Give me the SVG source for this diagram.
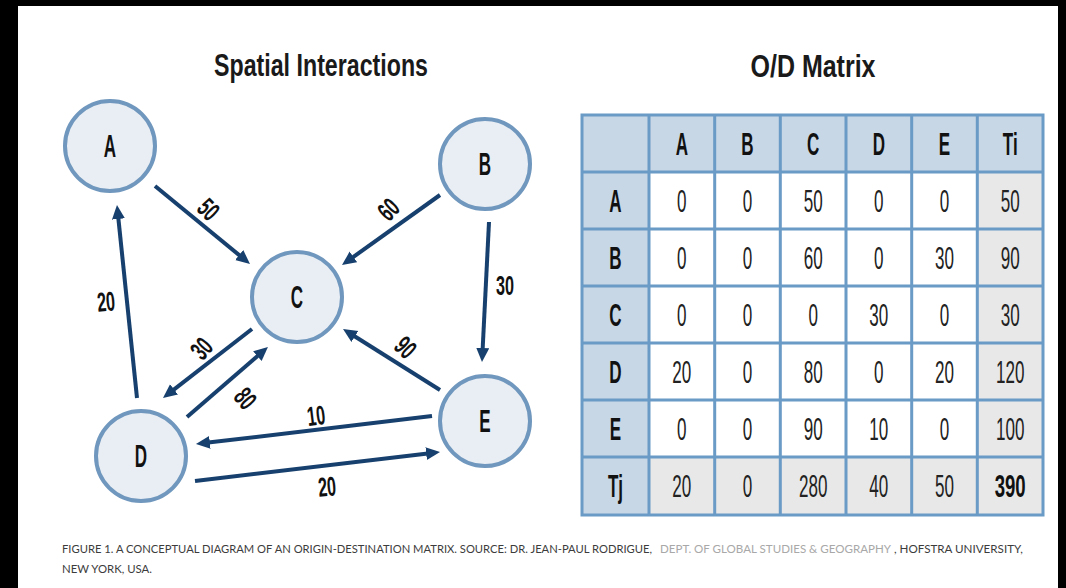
<svg xmlns="http://www.w3.org/2000/svg" width="1066" height="588" viewBox="0 0 1066 588">
<style>
.node circle{fill:#e9eef4;stroke:#7097bd;stroke-width:4}
.lbl{font-family:"Liberation Sans",Arial,sans-serif;font-weight:bold;font-size:31px;fill:#111;text-anchor:middle}
.title{font-family:"Liberation Sans",Arial,sans-serif;font-weight:bold;font-size:32px;fill:#1a1a1a;text-anchor:middle}
.el{font-family:"Liberation Sans",Arial,sans-serif;font-weight:bold;font-size:27px;fill:#111;text-anchor:middle}
.conn line{stroke:#17406e;stroke-width:4;marker-end:url(#ah)}
.hd{fill:#c7d7e6}
.gy{fill:#e8e8e8}
.wh{fill:#ffffff}
.grid{stroke:#6a9ac6;stroke-width:3;fill:none}
.tv{font-family:"Liberation Sans",Arial,sans-serif;font-size:31px;fill:#222;text-anchor:middle}
.th{font-family:"Liberation Sans",Arial,sans-serif;font-weight:bold;font-size:31px;fill:#111;text-anchor:middle}
.cap{font-family:Lato,"Liberation Sans",sans-serif;font-size:11.5px;fill:#3c3c3c}
.capl{fill:#a8a8a8}
</style>
<defs>
<marker id="ah" markerUnits="userSpaceOnUse" markerWidth="16" markerHeight="14" refX="6" refY="6.5" orient="auto">
<path d="M0,0 L14,6.5 L0,13 z" fill="#17406e"/>
</marker>
</defs>
<rect x="0" y="0" width="1066" height="588" fill="#000"/>
<rect x="18" y="6" width="1040" height="582" fill="#fff"/>

<text class="title" x="321" y="76" textLength="214" lengthAdjust="spacingAndGlyphs">Spatial Interactions</text>
<text class="title" x="813" y="77" textLength="125" lengthAdjust="spacingAndGlyphs">O/D Matrix</text>

<g id="connectors" class="conn">
<line x1="155" y1="186" x2="243.8" y2="258.9"/>
<line x1="440" y1="195" x2="348.5" y2="260.4"/>
<line x1="489" y1="222" x2="482.4" y2="354"/>
<line x1="440" y1="390" x2="349.8" y2="333.3"/>
<line x1="252" y1="329" x2="169.3" y2="393.1"/>
<line x1="187" y1="417" x2="261.9" y2="352.2"/>
<line x1="432" y1="416" x2="203.9" y2="443.1"/>
<line x1="195" y1="481" x2="432.1" y2="452.9"/>
<line x1="137" y1="398" x2="117.8" y2="213"/>
</g>
<g id="edge-labels">
<text class="el" transform="translate(209,209) rotate(45) translate(0,10) scale(0.6,1)">50</text>
<text class="el" transform="translate(388,209) rotate(-45) translate(0,10) scale(0.6,1)">60</text>
<text class="el" transform="translate(505,285) translate(0,10) scale(0.6,1)">30</text>
<text class="el" transform="translate(406,347) rotate(45) translate(0,10) scale(0.6,1)">90</text>
<text class="el" transform="translate(201,348) rotate(-48) translate(0,10) scale(0.6,1)">30</text>
<text class="el" transform="translate(246,398) rotate(50) translate(0,10) scale(0.6,1)">80</text>
<text class="el" transform="translate(316,415) rotate(-7) translate(0,10) scale(0.6,1)">10</text>
<text class="el" transform="translate(327,486) rotate(-5) translate(0,10) scale(0.6,1)">20</text>
<text class="el" transform="translate(106,301) rotate(-5) translate(0,10) scale(0.6,1)">20</text>
</g>

<g id="node-A" class="node"><circle cx="110" cy="146" r="45"/><text class="lbl" transform="translate(110,157) scale(0.55,1)">A</text></g>
<g id="node-B" class="node"><circle cx="485" cy="164" r="45"/><text class="lbl" transform="translate(485,175) scale(0.55,1)">B</text></g>
<g id="node-C" class="node"><circle cx="297" cy="297" r="45"/><text class="lbl" transform="translate(297,308) scale(0.55,1)">C</text></g>
<g id="node-D" class="node"><circle cx="141" cy="456" r="45"/><text class="lbl" transform="translate(141,467) scale(0.55,1)">D</text></g>
<g id="node-E" class="node"><circle cx="485" cy="421" r="45"/><text class="lbl" transform="translate(485,432) scale(0.55,1)">E</text></g>

<g id="od-matrix">
<rect class="hd" x="582" y="115" width="461" height="57"/>
<rect class="hd" x="582" y="115" width="67" height="400"/>
<rect class="wh" x="649" y="172" width="329" height="285"/>
<rect class="gy" x="978" y="172" width="65" height="343"/>
<rect class="gy" x="649" y="457" width="394" height="58"/>
<g class="grid">
<rect x="582" y="115" width="461" height="400"/>
<path d="M582,172H1043M582,229H1043M582,286H1043M582,343H1043M582,400H1043M582,457H1043M649,115V515M714.7,115V515M780.3,115V515M846,115V515M911.7,115V515M977.3,115V515"/>
</g>
<g>
<text class="th" transform="translate(681.8,154.5) scale(0.55,1)">A</text>
<text class="th" transform="translate(747.5,154.5) scale(0.55,1)">B</text>
<text class="th" transform="translate(813.2,154.5) scale(0.55,1)">C</text>
<text class="th" transform="translate(878.8,154.5) scale(0.55,1)">D</text>
<text class="th" transform="translate(944.5,154.5) scale(0.55,1)">E</text>
<text class="th" transform="translate(1010.2,154.5) scale(0.55,1)">Ti</text>
<text class="th" transform="translate(615.5,211.5) scale(0.55,1)">A</text>
<text class="th" transform="translate(615.5,268.5) scale(0.55,1)">B</text>
<text class="th" transform="translate(615.5,325.5) scale(0.55,1)">C</text>
<text class="th" transform="translate(615.5,382.5) scale(0.55,1)">D</text>
<text class="th" transform="translate(615.5,439.5) scale(0.55,1)">E</text>
<text class="th" transform="translate(615.5,497) scale(0.55,1)">Tj</text>

<text class="tv" transform="translate(681.8,211.5) scale(0.55,1)">0</text>
<text class="tv" transform="translate(747.5,211.5) scale(0.55,1)">0</text>
<text class="tv" transform="translate(813.2,211.5) scale(0.55,1)">50</text>
<text class="tv" transform="translate(878.8,211.5) scale(0.55,1)">0</text>
<text class="tv" transform="translate(944.5,211.5) scale(0.55,1)">0</text>
<text class="tv" transform="translate(1010.2,211.5) scale(0.55,1)">50</text>

<text class="tv" transform="translate(681.8,268.5) scale(0.55,1)">0</text>
<text class="tv" transform="translate(747.5,268.5) scale(0.55,1)">0</text>
<text class="tv" transform="translate(813.2,268.5) scale(0.55,1)">60</text>
<text class="tv" transform="translate(878.8,268.5) scale(0.55,1)">0</text>
<text class="tv" transform="translate(944.5,268.5) scale(0.55,1)">30</text>
<text class="tv" transform="translate(1010.2,268.5) scale(0.55,1)">90</text>

<text class="tv" transform="translate(681.8,325.5) scale(0.55,1)">0</text>
<text class="tv" transform="translate(747.5,325.5) scale(0.55,1)">0</text>
<text class="tv" transform="translate(813.2,325.5) scale(0.55,1)">0</text>
<text class="tv" transform="translate(878.8,325.5) scale(0.55,1)">30</text>
<text class="tv" transform="translate(944.5,325.5) scale(0.55,1)">0</text>
<text class="tv" transform="translate(1010.2,325.5) scale(0.55,1)">30</text>

<text class="tv" transform="translate(681.8,382.5) scale(0.55,1)">20</text>
<text class="tv" transform="translate(747.5,382.5) scale(0.55,1)">0</text>
<text class="tv" transform="translate(813.2,382.5) scale(0.55,1)">80</text>
<text class="tv" transform="translate(878.8,382.5) scale(0.55,1)">0</text>
<text class="tv" transform="translate(944.5,382.5) scale(0.55,1)">20</text>
<text class="tv" transform="translate(1010.2,382.5) scale(0.55,1)">120</text>

<text class="tv" transform="translate(681.8,439.5) scale(0.55,1)">0</text>
<text class="tv" transform="translate(747.5,439.5) scale(0.55,1)">0</text>
<text class="tv" transform="translate(813.2,439.5) scale(0.55,1)">90</text>
<text class="tv" transform="translate(878.8,439.5) scale(0.55,1)">10</text>
<text class="tv" transform="translate(944.5,439.5) scale(0.55,1)">0</text>
<text class="tv" transform="translate(1010.2,439.5) scale(0.55,1)">100</text>

<text class="tv" transform="translate(681.8,497) scale(0.55,1)">20</text>
<text class="tv" transform="translate(747.5,497) scale(0.55,1)">0</text>
<text class="tv" transform="translate(813.2,497) scale(0.55,1)">280</text>
<text class="tv" transform="translate(878.8,497) scale(0.55,1)">40</text>
<text class="tv" transform="translate(944.5,497) scale(0.55,1)">50</text>
<text class="th" transform="translate(1010.2,497) scale(0.6,1)">390</text>
</g>
</g>

<g id="caption">
<text class="cap" x="62" y="553" textLength="590" lengthAdjust="spacingAndGlyphs">FIGURE 1. A CONCEPTUAL DIAGRAM OF AN ORIGIN-DESTINATION MATRIX. SOURCE: DR. JEAN-PAUL RODRIGUE,</text>
<text class="cap capl" x="660" y="553" textLength="231" lengthAdjust="spacingAndGlyphs">DEPT. OF GLOBAL STUDIES &amp; GEOGRAPHY</text>
<text class="cap" x="894" y="553" textLength="129" lengthAdjust="spacingAndGlyphs">, HOFSTRA UNIVERSITY,</text>
<text class="cap" x="62" y="573" textLength="90" lengthAdjust="spacingAndGlyphs">NEW YORK, USA.</text>
</g>
</svg>
